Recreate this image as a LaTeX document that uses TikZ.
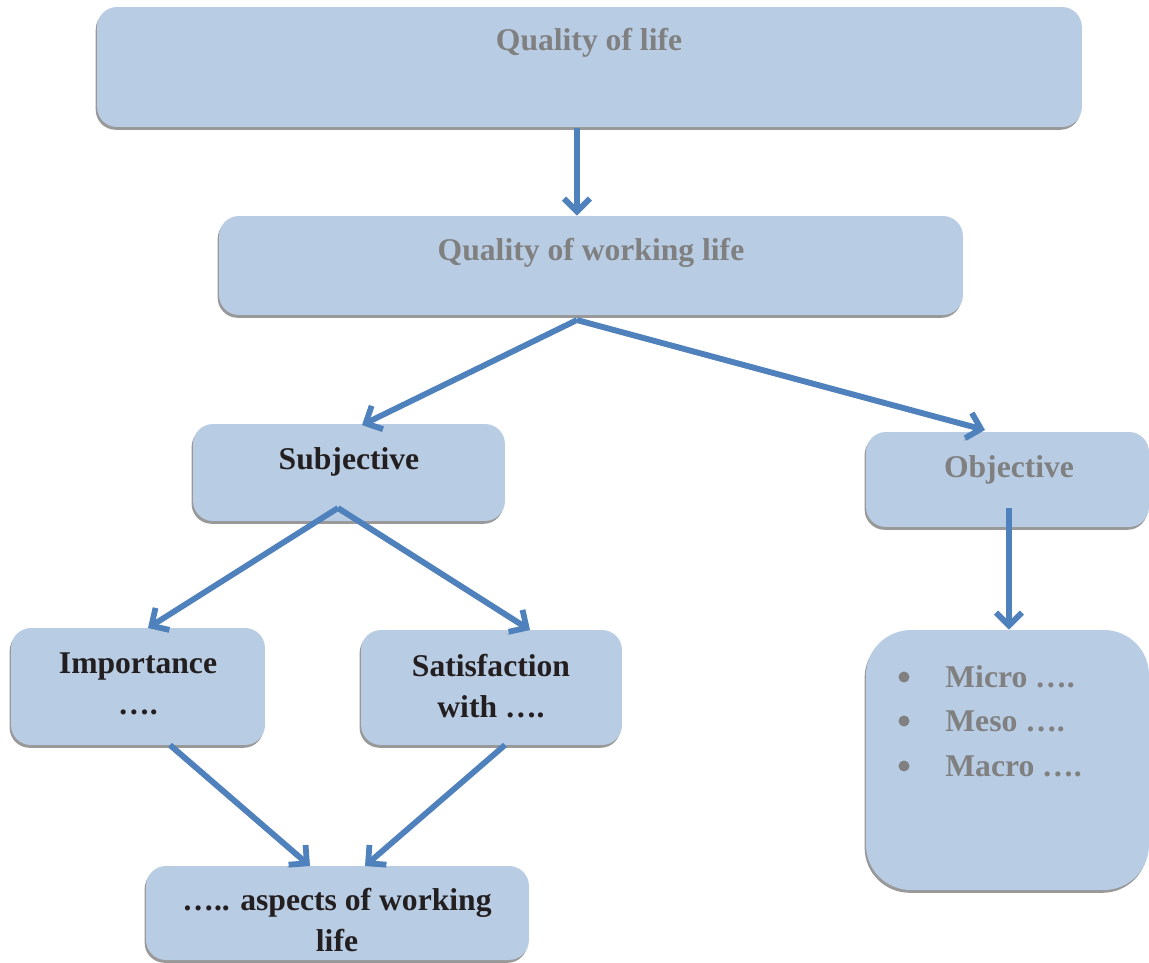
\documentclass[tikz,border=0pt]{standalone}
\usepackage{fontspec}
\setmainfont{Liberation Serif}
\usetikzlibrary{arrows.meta,shadows,positioning}

\definecolor{boxblue}{HTML}{B8CCE4}
\definecolor{arrowblue}{HTML}{4F81BD}
\definecolor{textgray}{HTML}{808080}
\definecolor{textdark}{HTML}{231F20}

\tikzset{
  box/.style={fill=boxblue, draw=none, inner sep=0pt, rounded corners=0.4cm,
    drop shadow={shadow xshift=-0.8pt, shadow yshift=-1.6pt, fill=gray!80, opacity=1}},
  lbl/.style={font=\fontsize{18}{23}\selectfont\bfseries, align=center, inner sep=0pt},
  grey/.style={lbl, text=textgray},
  dark/.style={lbl, text=textdark},
  bullet/.style={circle, fill=textgray, inner sep=0pt, minimum size=0.22cm},
  flow/.style={draw=arrowblue, line width=3.3pt,
    -{Straight Barb[length=2.6mm,width=5.2mm]},
    preaction={draw=gray!80, transform canvas={xshift=-0.7pt, yshift=-1.3pt}}}
}

\begin{document}
\begin{tikzpicture}[x=0.02cm, y=-0.02cm]

  \useasboundingbox (0,0) rectangle (1149,963);

  % Boxes
  \node[box, minimum width=19.7cm, minimum height=2.4cm] (qol) at (589.5,67) {};
  \node[box, minimum width=14.88cm, minimum height=1.98cm] (qwl) at (591,265.5) {};
  \node[box, minimum width=6.24cm, minimum height=1.94cm] (subj) at (349,472.5) {};
  \node[box, minimum width=5.66cm, minimum height=1.9cm] (obj) at (1007.5,479.5) {};
  \node[box, minimum width=5.08cm, minimum height=2.34cm] (imp) at (138,686.5) {};
  \node[box, minimum width=5.22cm, minimum height=2.3cm] (sat) at (491.5,687.5) {};
  \node[box, rounded corners=0.9cm, minimum width=5.66cm, minimum height=5.2cm] (levels) at (1007.5,760) {};
  \node[box, minimum width=7.66cm, minimum height=1.88cm] (asp) at (337.5,913) {};

  % Texts
  \node[grey] (qoltxt) at (589,43) {Quality of life};
  \node[grey] (qwltxt) at (591,253) {Quality of working life};
  \node[dark] (subjtxt) at (349,462) {Subjective};
  \node[grey] (objtxt) at (1009,470) {Objective};
  \node[dark] (imptxt) at (138,684) {Importance\\….};
  \node[dark] (sattxt) at (491,686) {Satisfaction\\with ….};
  \node[dark] (asptxt) at (337,920) {….. aspects of working\\life};

  \foreach \y/\word [count=\i] in {675/Micro, 719/Meso, 764/Macro} {
    \node[bullet] (dot\i) at (904,\y+2) {};
    \node[grey, anchor=west] (lvl\i) at (945,\y+2) {\word\ ….};
  }

  % Connectors
  \coordinate (qolout) at (577,128);
  \coordinate (qwlfork) at (577,320);
  \coordinate (subjfork) at (338,508);
  \coordinate (objout) at (1009,508);
  \coordinate (subjin) at (362,425);
  \coordinate (objin) at (985,430);
  \coordinate (impin) at (148,628);
  \coordinate (satin) at (530,630);
  \coordinate (impout) at (170,745);
  \coordinate (satout) at (505,745);
  \coordinate (aspinl) at (310,866);
  \coordinate (aspinr) at (365,866);

  \draw[flow] (qolout) -- (qolout |- qwl.north);
  \draw[flow] (qwlfork) -- (subjin);
  \draw[flow] (qwlfork) -- (objin);
  \draw[flow] (subjfork) -- (impin);
  \draw[flow] (subjfork) -- (satin);
  \draw[flow] (objout) -- (objout |- levels.north);
  \draw[flow] (impout) -- (aspinl);
  \draw[flow] (satout) -- (aspinr);

\end{tikzpicture}
\end{document}
